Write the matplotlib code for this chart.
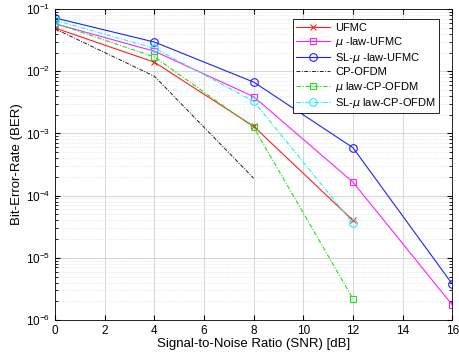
import matplotlib.pyplot as plt

plt.rcParams['font.family'] = ['Liberation Sans', 'DejaVu Sans']
plt.rcParams['mathtext.fontset'] = 'custom'
plt.rcParams['mathtext.rm'] = 'Liberation Sans'

snr = [0, 4, 8, 12, 16]
snr_cp = [0, 4, 8]

ufmc = [0.0495, 0.014, 1.3e-3, 4.0e-5]
mu_ufmc = [0.058, 0.021, 3.9e-3, 1.65e-4, 1.75e-6]
sl_mu_ufmc = [0.072, 0.0295, 6.7e-3, 5.9e-4, 3.8e-6]
cp_ofdm = [0.048, 8.3e-3, 1.9e-4]
mu_cp_ofdm = [0.059, 0.017, 1.25e-3, 2.2e-6]
sl_mu_cp_ofdm = [0.066, 0.0235, 3.3e-3, 3.6e-5]

labels = ['UFMC', r'$\mu$ -law-UFMC', r'SL-$\mu$ -law-UFMC', 'CP-OFDM',
          r'$\mu$ law-CP-OFDM', r'SL-$\mu$ law-CP-OFDM']

dashdot = (0, (4, 1.5, 1, 1.5))

fig = plt.figure(figsize=(4.6, 3.64), dpi=100)
ax = fig.add_axes([0.12, 0.121, 0.863, 0.854])

ax.semilogy(snr[:4], ufmc, color='#ff2020', ls='-', marker='x', lw=0.8, ms=5, mew=0.8, label=labels[0])
ax.semilogy(snr, mu_ufmc, color='#ff20ff', ls='-', marker='s', lw=0.8, ms=5, mfc='none', mew=0.8, label=labels[1])
ax.semilogy(snr, sl_mu_ufmc, color='#2020ff', ls='-', marker='o', lw=0.8, ms=5.5, mfc='none', mew=0.8, label=labels[2])
ax.semilogy(snr_cp, cp_ofdm, color='#202020', ls=dashdot, lw=0.7, label=labels[3])
ax.semilogy(snr[:4], mu_cp_ofdm, color='#20e020', ls=dashdot, marker='s', lw=0.8, ms=5, mfc='none', mew=0.8, label=labels[4])
ax.semilogy(snr[:4], sl_mu_cp_ofdm, color='#20f0f0', ls=dashdot, marker='o', lw=0.8, ms=5.5, mfc='none', mew=0.8, label=labels[5])

ax.set_xlim(0, 16)
ax.set_ylim(1e-6, 1e-1)
ax.set_xticks(range(0, 17, 2))
ax.grid(True, which='major', color='#d0d0d0', lw=0.6)
ax.grid(True, which='minor', color='#d8d8d8', lw=0.5, ls=':')
ax.tick_params(labelsize=8.5, which='both', direction='in', top=True, right=True)
for s in ax.spines.values():
    s.set_linewidth(0.6)

ax.set_xlabel('Signal-to-Noise Ratio (SNR) [dB]', fontsize=9.5, labelpad=1)
ax.set_ylabel('Bit-Error-Rate (BER)', fontsize=9.5, labelpad=2)

leg = ax.legend(loc='upper right', fontsize=8, fancybox=False, edgecolor='k',
                framealpha=1, handlelength=3.0, handletextpad=0.5, borderpad=0.3,
                labelspacing=0.2, bbox_to_anchor=(0.982, 0.985))
leg.get_frame().set_linewidth(0.6)

fig.savefig('out.png', dpi=100)
